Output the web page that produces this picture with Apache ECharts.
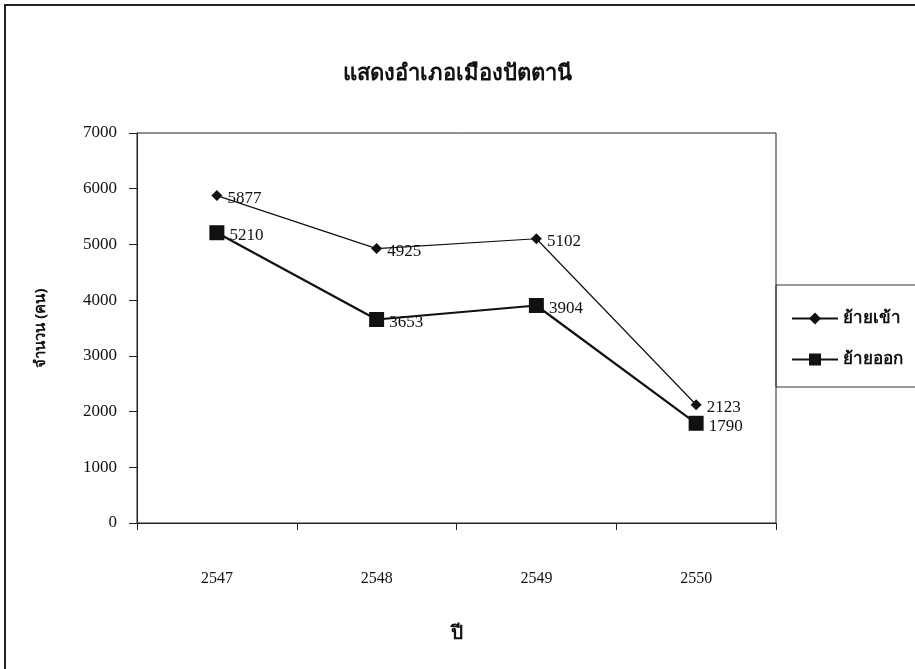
<!DOCTYPE html>
<html>
<head>
<meta charset="utf-8">
<script src="https://cdn.jsdelivr.net/npm/echarts@6/dist/echarts.min.js"></script>
<style>
	html, body { margin: 0; padding: 0; background: #fff; }
	#chart { width: 915px; height: 669px; }
</style>
</head>
<body>
<div id="chart"></div>
<script>
	// ข้อมูล
	const years = ['2547', '2548', '2549', '2550']
	const moveIn = [5877, 4925, 5102, 2123]
	const moveOut = [5210, 3653, 3904, 1790]
	const seriesNames = ['ย้ายเข้า', 'ย้ายออก']

	const thaiFont = 'Tahoma, "Noto Sans", sans-serif'
	const numFont = '"Liberation Serif", "Times New Roman", serif'

	const chart = echarts.init(document.getElementById('chart'))
	const option = {
		animation: false,
		backgroundColor: '#fff',
		title: {
			text: 'แสดงอำเภอเมืองปัตตานี',
			left: 'center',
			top: 58,
			textStyle: { fontFamily: thaiFont, fontSize: 22, fontWeight: 'bold', color: '#111' }
		},
		grid: {
			left: 137, right: 139, top: 133, bottom: 146,
			show: true, borderColor: '#222', borderWidth: 1
		},
		legend: {
			orient: 'vertical',
			left: 786,
			top: 305,
			itemGap: 24,
			itemWidth: 46,
			itemHeight: 15,
			data: seriesNames,
			textStyle: { fontFamily: thaiFont, fontSize: 17, fontWeight: 'bold', color: '#111' }
		},
		xAxis: {
			type: 'category',
			data: years,
			boundaryGap: true,
			name: 'ปี',
			nameLocation: 'middle',
			nameGap: 101,
			nameTextStyle: { fontFamily: thaiFont, fontSize: 19, fontWeight: 'bold', color: '#111' },
			axisLine: { lineStyle: { color: '#222' } },
			axisTick: { show: true, length: 7, lineStyle: { color: '#222' } },
			axisLabel: { margin: 48, fontFamily: numFont, fontSize: 16, color: '#111' },
			splitLine: { show: false }
		},
		yAxis: {
			type: 'value',
			min: 0, max: 7000, interval: 1000,
			name: 'จำนวน (คน)',
			nameLocation: 'middle',
			nameRotate: 90,
			nameGap: 89,
			nameTextStyle: { fontFamily: thaiFont, fontSize: 15, fontWeight: 'bold', color: '#111' },
			axisLine: { show: true, lineStyle: { color: '#222' } },
			axisTick: { show: true, length: 8, lineStyle: { color: '#222' } },
			axisLabel: { margin: 20, fontFamily: numFont, fontSize: 17, color: '#111', formatter: v => String(v) },
			splitLine: { show: false }
		},
		series: [
			{
				name: seriesNames[0],
				type: 'line',
				data: moveIn,
				symbol: 'diamond',
				symbolSize: 11,
				color: '#111',
				lineStyle: { width: 1.2, color: '#111' },
				itemStyle: { color: '#111' },
				label: { show: true, position: 'right', distance: 5, offset: [0, 3], fontFamily: numFont, fontSize: 17, color: '#111' }
			},
			{
				name: seriesNames[1],
				type: 'line',
				data: moveOut,
				symbol: 'rect',
				symbolSize: 15,
				color: '#111',
				lineStyle: { width: 2.2, color: '#111' },
				itemStyle: { color: '#111' },
				label: { show: true, position: 'right', distance: 5, offset: [0, 3], fontFamily: numFont, fontSize: 17, color: '#111' }
			}
		],
		graphic: [
			{
				type: 'rect',
				shape: { x: 5, y: 5, width: 960, height: 720 },
				style: { fill: 'none', stroke: '#222', lineWidth: 2 },
				silent: true
			},
			{
				type: 'rect',
				shape: { x: 776, y: 285, width: 200, height: 102 },
				style: { fill: 'none', stroke: '#333', lineWidth: 1 },
				silent: true
			}
		]
	}
	chart.setOption(option)
</script>
</body>
</html>
